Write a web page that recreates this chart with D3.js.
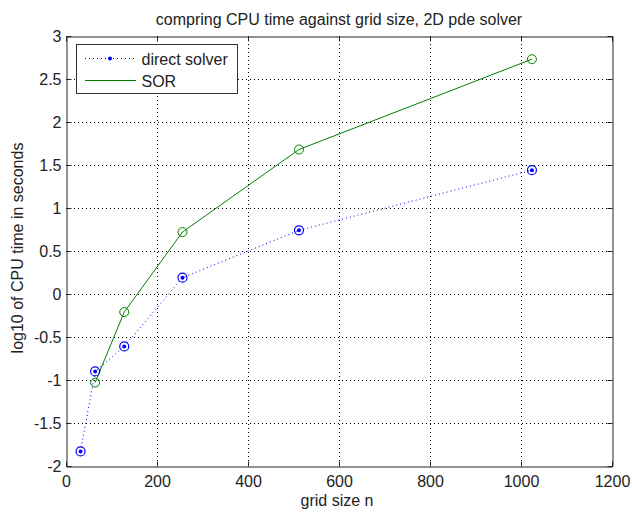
<!DOCTYPE html>
<html><head><meta charset="utf-8">
<script src="https://cdn.jsdelivr.net/npm/d3@7"></script>
<style>
body{margin:0;background:#fff;}
text{font-family:"Liberation Sans",Arial,sans-serif;fill:#222;}
</style></head>
<body><svg id="c" width="632" height="512"></svg>
<script>
const gridSizes = [32, 64, 128, 256, 512, 1024];
const directSolver = [-1.83, -0.90, -0.61, 0.19, 0.74, 1.44];
const sorSizes = [64, 128, 256, 512, 1024];
const sorValues = [-1.03, -0.21, 0.72, 1.68, 2.73];
const xTicks = [0, 200, 400, 600, 800, 1000, 1200];
const yTicks = [-2, -1.5, -1, -0.5, 0, 0.5, 1, 1.5, 2, 2.5, 3];
const seriesNames = ["direct solver", "SOR"];
const titleText = "compring CPU time against grid size, 2D pde solver";
const xLabel = "grid size n";
const yLabel = "log10 of CPU time in seconds";

const svg = d3.select("#c");
const L = 66, R = 612, T = 36, B = 466;
const x = d3.scaleLinear().domain([0, 1200]).range([L, R]);
const y = d3.scaleLinear().domain([-2, 3]).range([B, T]);
const fs = 16;

// grid
const g = svg.append("g");
g.selectAll(".vg").data(xTicks.slice(1, -1)).join("line")
  .attr("x1", d => Math.round(x(d)) + 0.5).attr("x2", d => Math.round(x(d)) + 0.5)
  .attr("y1", T).attr("y2", B).attr("stroke", "#000").attr("stroke-dasharray", "1,3");
g.selectAll(".hg").data(yTicks.slice(1, -1)).join("line")
  .attr("y1", d => Math.round(y(d)) + 0.5).attr("y2", d => Math.round(y(d)) + 0.5)
  .attr("x1", L).attr("x2", R).attr("stroke", "#000").attr("stroke-dasharray", "1,3");

// axes with inward ticks
const xAxisB = d3.axisBottom(x).tickValues(xTicks).tickSizeInner(-5).tickSizeOuter(0).tickPadding(9).tickFormat(d3.format("d"));
const xAxisT = d3.axisTop(x).tickValues(xTicks).tickSizeInner(-5).tickSizeOuter(0).tickFormat("");
const yAxisL = d3.axisLeft(y).tickValues(yTicks).tickSizeInner(-5).tickSizeOuter(0).tickPadding(5).tickFormat(d => String(d));
const yAxisR = d3.axisRight(y).tickValues(yTicks).tickSizeInner(-5).tickSizeOuter(0).tickFormat("");
function style(sel){ sel.select(".domain").attr("stroke","#222"); sel.selectAll(".tick line").attr("stroke","#222"); sel.selectAll("text").attr("font-size",fs).attr("font-family","Liberation Sans, Arial, sans-serif").attr("fill","#222"); }
svg.append("g").attr("transform", `translate(0,${B + 0.5})`).call(xAxisB).call(style);
svg.append("g").attr("transform", `translate(0,${T + 0.5})`).call(xAxisT).call(style);
svg.append("g").attr("transform", `translate(${L + 0.5},0)`).call(yAxisL).call(style);
svg.append("g").attr("transform", `translate(${R + 0.5},0)`).call(yAxisR).call(style);

// series
const dData = gridSizes.map((s, i) => [s, directSolver[i]]);
const sData = sorSizes.map((s, i) => [s, sorValues[i]]);
const line = d3.line().x(d => x(d[0])).y(d => y(d[1]));
svg.append("path").attr("d", line(dData)).attr("fill", "none").attr("stroke", "#0000ff").attr("stroke-dasharray", "1,3");
svg.append("path").attr("d", line(sData)).attr("fill", "none").attr("stroke", "#007f00");

svg.selectAll(".dc").data(dData).join("circle")
  .attr("cx", d => x(d[0])).attr("cy", d => y(d[1])).attr("r", 4.5)
  .attr("fill", "none").attr("stroke", "#0000ff").attr("stroke-width", 1.2);
svg.selectAll(".dd").data(dData).join("circle")
  .attr("cx", d => x(d[0])).attr("cy", d => y(d[1])).attr("r", 2)
  .attr("fill", "#0000ff");
svg.selectAll(".sc").data(sData).join("circle")
  .attr("cx", d => x(d[0])).attr("cy", d => y(d[1])).attr("r", 4.5)
  .attr("fill", "none").attr("stroke", "#007f00");

// legend
const lg = svg.append("g");
lg.append("rect").attr("x", 76.5).attr("y", 44.5).attr("width", 161).attr("height", 49)
  .attr("fill", "#fff").attr("stroke", "#333");
lg.append("line").attr("x1", 85).attr("x2", 134).attr("y1", 58.5).attr("y2", 58.5)
  .attr("stroke", "#0000ff").attr("stroke-dasharray", "1,3");
lg.append("circle").attr("cx", 110).attr("cy", 58.5).attr("r", 2).attr("fill", "#0000ff");
lg.append("line").attr("x1", 85).attr("x2", 136).attr("y1", 80.5).attr("y2", 80.5).attr("stroke", "#007f00");
lg.selectAll(".lt").data(seriesNames).join("text")
  .attr("x", 141.5).attr("y", (d, i) => 65 + i * 22).attr("font-size", fs).text(d => d);

// title & labels
svg.append("text").attr("x", (L + R) / 2).attr("y", 25).attr("text-anchor", "middle").attr("font-size", fs).text(titleText);
svg.append("text").attr("x", 337).attr("y", 506).attr("text-anchor", "middle").attr("font-size", fs).text(xLabel);
svg.append("text").attr("transform", `translate(23,248) rotate(-90)`).attr("text-anchor", "middle").attr("font-size", fs).text(yLabel);
</script></body></html>
